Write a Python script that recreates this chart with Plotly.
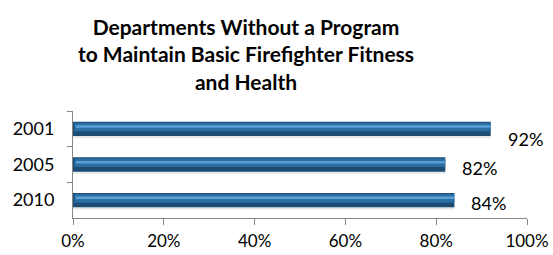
import plotly.graph_objects as go

years = ["2001", "2005", "2010"]
values = [92, 82, 84]
labels = ["92%", "82%", "84%"]
x_ticks = [0, 20, 40, 60, 80, 100]
x_ticklabels = ["0%", "20%", "40%", "60%", "80%", "100%"]

FONT = "Lato"
fig = go.Figure()

def bar(xv, width, offset, color, base=None):
    fig.add_trace(go.Bar(y=years, x=xv, base=base, orientation="h", width=width, offset=offset,
                         marker=dict(color=color, line=dict(width=0)),
                         hoverinfo="skip", showlegend=False))

# shadow
bar(values, 0.36, -0.10, "rgba(120,120,120,0.18)")
# base dark bar
bar(values, 0.40, -0.20, "#1c4c74")
# mid blue
bar([v - 0.3 for v in values], 0.24, -0.17, "#2a6ea3", base=0.3)
# highlight
bar([v - 0.6 for v in values], 0.07, -0.10, "#5aa0d4", base=0.6)

yshifts = [-10, -3, -3]
for i, (v, lab, ys) in enumerate(zip(values, labels, yshifts)):
    fig.add_annotation(x=v, y=i, xref="x", yref="y", text=lab, showarrow=False, xanchor="left",
                       xshift=15, yshift=ys, font=dict(family=FONT, size=18, color="#000"))

fig.update_layout(
    width=553, height=255, autosize=False,
    margin=dict(l=73, r=26, t=111, b=37, autoexpand=False),
    paper_bgcolor="white", plot_bgcolor="white",
    barmode="overlay",
    title=dict(text="<b>Departments Without a Program<br>to Maintain Basic Firefighter Fitness<br>and Health</b>",
               x=246/553, xanchor="center", y=1 - 35/255, yanchor="top",
               font=dict(family=FONT, size=21, color="#000")),
    xaxis=dict(range=[0, 100], tickvals=x_ticks, ticktext=x_ticklabels, automargin=False,
               showgrid=False, zeroline=False, showline=True, linecolor="#868686", linewidth=1,
               ticks="outside", ticklen=6, tickcolor="#868686", ticklabelstandoff=2,
               tickfont=dict(family=FONT, size=17, color="#000"), fixedrange=True),
    yaxis=dict(type="category", categoryorder="array", categoryarray=years, range=[2.5, -0.5],
               tickson="boundaries", ticklabelstandoff=14, automargin=False,
               showgrid=False, zeroline=False, showline=True, linecolor="#868686", linewidth=1,
               ticks="outside", ticklen=5, tickcolor="#868686",
               tickfont=dict(family=FONT, size=18, color="#000")),
    font=dict(family=FONT),
)

fig.write_html("out.html",
               config={"responsive": False, "displayModeBar": False},
               post_script="document.body.style.margin='0';")
